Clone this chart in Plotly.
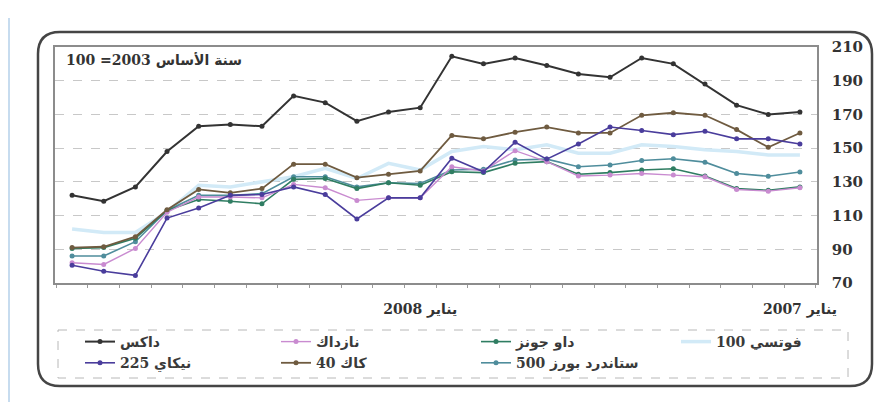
import plotly.graph_objects as go

# Monthly index levels (base year 2003 = 100), January 2007 .. December 2008
months = [
    "2007-01", "2007-02", "2007-03", "2007-04", "2007-05", "2007-06",
    "2007-07", "2007-08", "2007-09", "2007-10", "2007-11", "2007-12",
    "2008-01", "2008-02", "2008-03", "2008-04", "2008-05", "2008-06",
    "2008-07", "2008-08", "2008-09", "2008-10", "2008-11", "2008-12",
]

dax = [171.5, 170, 175.5, 188, 200, 203.5, 192, 194, 199, 203.5, 200, 204.5,
       174, 171.5, 166, 177, 181, 163, 164, 163, 148, 127, 118.5, 122]
cac40 = [159, 150.5, 161, 169.5, 171, 169.5, 159, 159, 162.5, 159.5, 155.5, 157.5,
         136.5, 134.5, 132.5, 140.5, 140.5, 126, 123.5, 125.5, 113.5, 97.5, 91.5, 91]
nikkei225 = [152.5, 155.5, 155.5, 160, 158, 160.5, 162.5, 152.5, 143.5, 153.5, 136, 144,
             120.5, 120.5, 108, 122.5, 127, 122.5, 122, 114.5, 108.5, 74.5, 77, 80.5]
dow_jones = [127, 125, 126, 133.5, 137.8, 137, 135.5, 134.5, 142, 141, 135.5, 136,
             128, 129.5, 126, 132, 131.5, 117, 118.5, 119.5, 113, 96.5, 91, 90.5]
sp500 = [135.8, 133.3, 135, 141.7, 143.7, 142.7, 140, 139, 143.5, 143, 137.5, 137,
         129, 129.5, 127, 133, 133, 123, 122, 122, 113, 94.5, 86, 86]
nasdaq = [126.5, 124.5, 125.5, 133, 134, 135, 134, 133.5, 142, 148.5, 136.5, 139,
          120.5, 120.5, 119, 126.5, 128.5, 120.5, 121, 121, 112, 90.5, 81, 82]
ftse100 = [146, 146, 148, 149, 151, 152, 147, 147, 152, 149, 151, 148,
           137, 141, 132, 138, 133, 130, 127, 128, 112, 100, 100, 102]

tick_months = ["2007-01", "2008-01"]
tick_labels = ["يناير 2007", "يناير 2008"]
y_ticks = [70, 90, 110, 130, 150, 170, 190, 210]

base_note = "سنة الأساس 2003= 100"

x_pos = list(range(len(months)))

# plot-area geometry in pixels (used to place shapes in paper units)
W, H = 885, 416
L, R, T, B = 55, 68, 47, 133
PW, PH = W - L - R, H - T - B


def px(xp):
    return (xp - L) / PW


def py(yp):
    return (H - B - yp) / PH


series = [
    # name, values, colour, width, markers, legend, rank
    ("فوتسي 100", ftse100, "#d2eaf7", 3.5, False, "legend4", 1),
    ("ستاندرد بورز 500", sp500, "#4f8d9c", 1.6, True, "legend3", 2),
    ("داو جونز", dow_jones, "#2f7d62", 1.6, True, "legend3", 1),
    ("نازداك", nasdaq, "#c98bd0", 1.4, True, "legend2", 1),
    ("كاك 40", cac40, "#6f5b40", 1.8, True, "legend2", 2),
    ("نيكاي 225", nikkei225, "#4a3d9c", 1.6, True, "legend", 2),
    ("داكس", dax, "#333333", 2, True, "legend", 1),
]

fig = go.Figure()
for name, vals, color, width, marks, leg, rank in series:
    fig.add_trace(go.Scatter(
        x=x_pos, y=vals, name=name,
        mode="lines+markers" if marks else "lines",
        line=dict(color=color, width=width),
        marker=dict(size=5, color=color),
        legend=leg, legendrank=rank,
    ))

label_font = dict(family="DejaVu Serif, DejaVu Sans", size=14, color="#333333", weight="bold")
legend_font = dict(family="DejaVu Serif, DejaVu Sans", size=14, color="#3a3a3a", weight="bold")

legend_common = dict(orientation="v", xanchor="left", yanchor="top",
                     bgcolor="rgba(0,0,0,0)", borderwidth=0, font=legend_font)
legend_top = py(326)

fig.update_layout(
    width=W, height=H,
    margin=dict(l=L, r=R, t=T, b=B),
    paper_bgcolor="white", plot_bgcolor="white",
    showlegend=True,
    legend=dict(x=px(80), y=legend_top, **legend_common),
    legend2=dict(x=px(276), y=legend_top, **legend_common),
    legend3=dict(x=px(476), y=legend_top, **legend_common),
    legend4=dict(x=px(676), y=legend_top, **legend_common),
    xaxis=dict(
        range=[len(months) - 1 + 0.54, -0.54],
        tickmode="array",
        tickvals=[months.index(m) for m in tick_months],
        ticktext=tick_labels,
        ticks="", showgrid=False, zeroline=False,
        showline=True, mirror=True, linecolor="#8c8c8c", linewidth=1.5,
        tickfont=label_font, ticklabelstandoff=12,
        minor=dict(tickmode="linear", tick0=0.5, dtick=1, ticks="outside",
                   ticklen=3, tickcolor="#9a9a9a", showgrid=False),
    ),
    yaxis=dict(
        side="right", range=[70, 210],
        tickmode="array", tickvals=y_ticks,
        ticks="", showgrid=True, gridcolor="#c8c8c8", griddash="dash", gridwidth=1,
        zeroline=False, showline=True, mirror=True, linecolor="#8c8c8c", linewidth=1.5,
        tickfont=dict(family="DejaVu Serif", size=15, color="#333333", weight="bold"),
        ticklabelstandoff=10,
    ),
)

fig.add_annotation(
    text=base_note, xref="paper", yref="paper",
    x=px(64), y=py(60), xanchor="left", yanchor="middle",
    showarrow=False, font=label_font,
)

# rounded outer frame
x0, y0, x1, y1, rad = 38, 32, 872, 386, 22
path = (
    f"M {px(x0 + rad)},{py(y0)} L {px(x1 - rad)},{py(y0)} "
    f"Q {px(x1)},{py(y0)} {px(x1)},{py(y0 + rad)} "
    f"L {px(x1)},{py(y1 - rad)} Q {px(x1)},{py(y1)} {px(x1 - rad)},{py(y1)} "
    f"L {px(x0 + rad)},{py(y1)} Q {px(x0)},{py(y1)} {px(x0)},{py(y1 - rad)} "
    f"L {px(x0)},{py(y0 + rad)} Q {px(x0)},{py(y0)} {px(x0 + rad)},{py(y0)} Z"
)
fig.add_shape(type="path", path=path, xref="paper", yref="paper",
              line=dict(color="#454545", width=2.5), layer="below")

# dashed legend box
fig.add_shape(type="rect", xref="paper", yref="paper",
              x0=px(58), x1=px(848), y0=py(330), y1=py(378),
              line=dict(color="#b8b8b8", width=1, dash="dash"), layer="below")

# page edge on the left
fig.add_shape(type="line", xref="paper", yref="paper",
              x0=px(9), x1=px(9), y0=py(18), y1=py(402),
              line=dict(color="#b5d0ea", width=1.5))

fig.write_html("out.html")
